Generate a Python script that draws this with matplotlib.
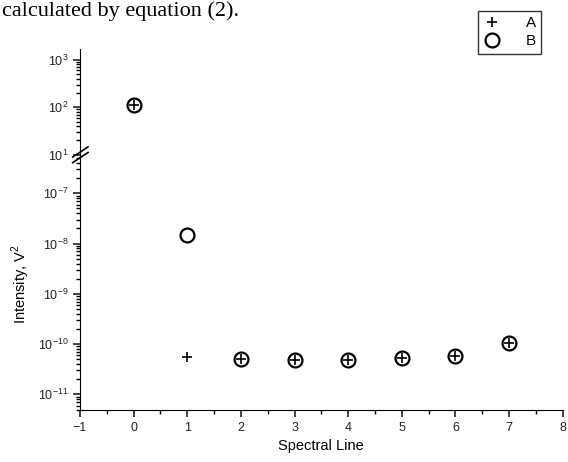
import matplotlib
matplotlib.use('Agg')
import matplotlib.pyplot as plt
import numpy as np

plt.rcParams['font.family'] = ['Liberation Sans', 'DejaVu Sans']
plt.rcParams['mathtext.fontset'] = 'custom'
plt.rcParams['mathtext.rm'] = 'Liberation Sans'

# data
x_a = [0, 1, 2, 3, 4, 5, 6, 7]
y_a = [112, 5.5e-11, 5.0e-11, 4.9e-11, 4.9e-11, 5.2e-11, 5.7e-11, 1.05e-10]
x_b = [0, 1, 2, 3, 4, 5, 6, 7]
y_b = [112, 1.5e-8, 5.0e-11, 4.9e-11, 4.9e-11, 5.2e-11, 5.7e-11, 1.05e-10]
xticks = [-1, 0, 1, 2, 3, 4, 5, 6, 7, 8]
upper_ticks = [1e1, 1e2, 1e3]
lower_ticks = [1e-11, 1e-10, 1e-9, 1e-8, 1e-7]

fig = plt.figure(figsize=(5.68, 4.62), dpi=100)
ax_up = fig.add_axes([0.1408, 0.662, 0.850, 0.232])
ax_lo = fig.add_axes([0.1408, 0.1126, 0.850, 0.545])

for ax in (ax_up, ax_lo):
    ha, = ax.plot(x_a, y_a, linestyle='none', marker='+', ms=7, mew=1.2, color='black', label='A')
    hb, = ax.plot(x_b, y_b, linestyle='none', marker='o', ms=10, mew=1.6, mfc='none', mec='black', label='B')
    ax.set_yscale('log')
    ax.set_xlim(-1, 8)
    ax.spines['top'].set_visible(False)
    ax.spines['right'].set_visible(False)
    ax.tick_params(axis='both', which='major', labelsize=9, length=5, width=1.2, colors='#222222')
    ax.tick_params(axis='both', which='minor', length=3, width=1.0)
    ax.patch.set_alpha(0)
handles = [ha, hb]

ax_up.set_ylim(10 ** 0.97, 10 ** 3.23)
ax_up.set_yticks(upper_ticks)
ax_up.spines['bottom'].set_visible(False)
ax_up.tick_params(axis='x', which='both', bottom=False, labelbottom=False)

ax_lo.set_ylim(10 ** -11.31, 10 ** -6.3)
ax_lo.set_yticks(lower_ticks)
ax_lo.set_xticks(xticks)
ax_lo.set_xticks(np.arange(-0.5, 8, 1), minor=True)
ax_lo.set_xlabel('Spectral Line', fontsize=10.5)
ax_lo.set_ylabel('Intensity, V$^2$', fontsize=10.5)

# break marks on the y axis
for dy in (0.0, 0.012):
    fig.add_artist(plt.Line2D([0.128, 0.155], [0.648 + dy, 0.670 + dy],
                              transform=fig.transFigure, color='black', lw=1.2))

fig.legend(handles=handles, labels=['A', 'B'], loc='upper right',
           bbox_to_anchor=(0.953, 0.976), borderaxespad=0, fontsize=11,
           frameon=True, fancybox=False, edgecolor='black', handlelength=1.2,
           handletextpad=1.6, borderpad=0.35, labelspacing=0.25)

fig.text(0.003, 0.966, 'calculated by equation (2).', fontsize=16,
         family='Liberation Serif', va='baseline', ha='left')

fig.savefig('out.png', dpi=100)
